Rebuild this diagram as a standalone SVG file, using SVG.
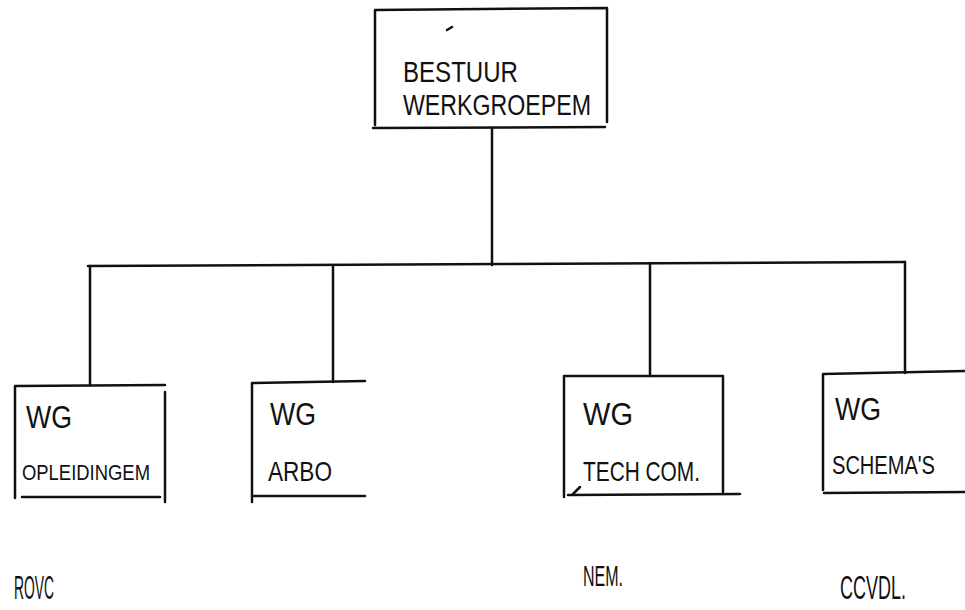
<svg xmlns="http://www.w3.org/2000/svg" width="965" height="610" viewBox="0 0 965 610">
<style>
.ln{fill:none;stroke:#111;stroke-width:2.5;stroke-linecap:round}
.t{font-family:"Liberation Sans",Arial,sans-serif;fill:#111}
</style>
<rect width="965" height="610" fill="#fff"/>
<g id="connectors">
<path class="ln" d="M492 128 V265"/>
<path class="ln" d="M88 266 L500 264 L905 262"/>
<path class="ln" d="M90 266 V385"/>
<path class="ln" d="M333 265 V382"/>
<path class="ln" d="M650 263 V376"/>
<path class="ln" d="M905 262 V373"/>
</g>
<g id="bestuur">
<path class="ln" d="M375 10 L607 8 M375 10 V125 M607 8 V122 M373 128 L605 127"/>
<path class="ln" d="M452 27 l-5 3" stroke-width="2"/>
<text class="t" x="403" y="82" style="font-size:30px" textLength="115" lengthAdjust="spacingAndGlyphs">BESTUUR</text>
<text class="t" x="403" y="115" style="font-size:30px" textLength="188" lengthAdjust="spacingAndGlyphs">WERKGROEPEM</text>
</g>
<g id="wg-opleidingen">
<path class="ln" d="M15 386 L165 385 M15 386 V498 M165 392 V502 M22 497 L160 497"/>
<text class="t" x="26" y="428" style="font-size:32px" textLength="46" lengthAdjust="spacingAndGlyphs">WG</text>
<text class="t" x="22" y="480" style="font-size:22px" textLength="128" lengthAdjust="spacingAndGlyphs">OPLEIDINGEM</text>
</g>
<g id="wg-arbo">
<path class="ln" d="M252 383 L365 381 M252 383 V502 M254 496 L365 496"/>
<text class="t" x="270" y="425" style="font-size:32px" textLength="46" lengthAdjust="spacingAndGlyphs">WG</text>
<text class="t" x="268" y="481" style="font-size:28px" textLength="64" lengthAdjust="spacingAndGlyphs">ARBO</text>
</g>
<g id="wg-techcom">
<path class="ln" d="M564 376 L723 376 M564 376 V497 M723 376 V492 M568 495 L740 494"/>
<path class="ln" d="M573 494 l7 -7" stroke-width="1.5"/>
<text class="t" x="583" y="425" style="font-size:32px" textLength="50" lengthAdjust="spacingAndGlyphs">WG</text>
<text class="t" x="583" y="481" style="font-size:28px" textLength="117" lengthAdjust="spacingAndGlyphs">TECH COM.</text>
</g>
<g id="wg-schemas">
<path class="ln" d="M823 374 L965 371 M823 374 V490 M824 493 L965 492"/>
<text class="t" x="835" y="420" style="font-size:32px" textLength="46" lengthAdjust="spacingAndGlyphs">WG</text>
<text class="t" x="832" y="474" style="font-size:26px" textLength="103" lengthAdjust="spacingAndGlyphs">SCHEMA'S</text>
</g>
<g id="labels">
<text class="t" x="14" y="599" style="font-size:34px" textLength="40" lengthAdjust="spacingAndGlyphs">ROVC</text>
<text class="t" x="583" y="586" style="font-size:30px" textLength="40" lengthAdjust="spacingAndGlyphs">NEM.</text>
<text class="t" x="840" y="599" style="font-size:34px" textLength="66" lengthAdjust="spacingAndGlyphs">CCVDL.</text>
</g>
</svg>
